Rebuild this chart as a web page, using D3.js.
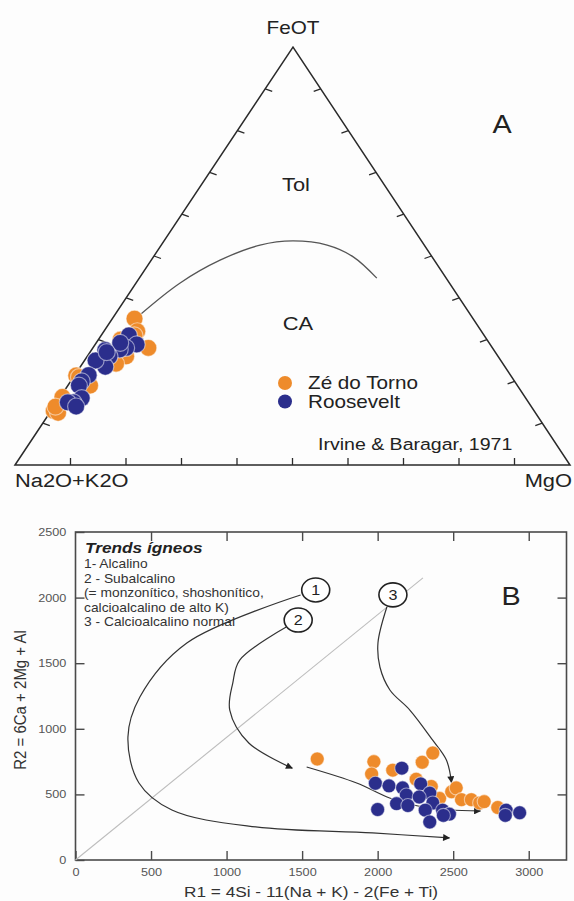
<!DOCTYPE html>
<html>
<head>
<meta charset="utf-8">
<script src="https://cdn.jsdelivr.net/npm/d3@7/dist/d3.min.js"></script>
<style>
  html, body { margin: 0; padding: 0; background: #fff; }
  svg { display: block; }
  text { font-family: "Liberation Sans", Arial, Helvetica, sans-serif; }
</style>
</head>
<body>
<svg id="fig" width="574" height="901"></svg>
<script>
// ---------- Panel A: AFM ternary (Irvine & Baragar, 1971) ----------
// each sample: [Na2O+K2O, FeOT, MgO]
const zeDoTornoAFM = [
  [61, 35, 4], [62, 28, 10], [62, 32, 6], [64, 31, 5], [66, 30, 4],
  [67, 26, 7], [69, 24, 6], [77, 20, 3], [78.5, 21.5, 0.3], [77, 19, 4],
  [83.5, 16.3, 0.4], [87, 13, 0.5], [86, 12.5, 1.5], [86, 14, 0.3], [78, 21, 1],
  [63, 31, 6]
];
const rooseveltAFM = [
  [64, 31, 5], [64, 29, 7.5], [66, 28, 6], [67, 27.5, 5], [70, 26, 4],
  [70, 27.5, 2.5], [72, 23.5, 4.5], [73, 25, 2], [76, 21.5, 2.5], [78, 20, 2],
  [79, 19, 2], [80, 16, 4], [82, 15, 3], [83, 15, 2], [82, 14, 4],
  [66, 29, 4.3], [70, 27, 3]
];
// tholeiitic / calc-alkaline dividing curve
const dividingCurveAFM = [
  [59.6, 35.9, 4.5], [48.6, 43.5, 7.9], [38.6, 49.0, 12.4], [29.6, 52.6, 17.8],
  [23.2, 53.6, 23.2], [17.5, 52.6, 29.9], [14.2, 49.8, 36.0], [12.5, 44.7, 42.8]
];
const ternaryTicks = [10, 20, 30, 40, 50, 60, 70, 80, 90];
const apexLabels = ["FeOT", "Na2O+K2O", "MgO"];
const seriesNames = ["Zé do Torno", "Roosevelt"];

// ---------- Panel B: R1-R2 (De La Roche) ----------
const zeDoTornoR1 = [1600, 1975, 1960, 2100, 2295, 2365, 2255, 2355, 2410, 2490, 2520, 2555, 2620, 2675, 2705, 2795];
const zeDoTornoR2 = [770, 750, 655, 685, 745, 815, 615, 560, 470, 520, 550, 460, 460, 435, 445, 400];
const rooseveltR1 = [2160, 1985, 2075, 2165, 2190, 2285, 2345, 2275, 2125, 2200, 2365, 2315, 2000, 2430, 2475, 2435, 2345, 2850, 2845, 2940];
const rooseveltR2 = [700, 585, 565, 550, 495, 580, 510, 480, 430, 415, 435, 380, 385, 380, 350, 340, 290, 380, 340, 360];

const trend1 = [[1490, 2020], [737, 1654], [426, 1242], [347, 937], [420, 587], [638, 381], [1193, 252], [1966, 206], [2475, 168]];
const trend2a = [[1395, 1776], [1087, 1524], [1041, 1349], [1021, 1143], [1147, 892], [1435, 700]];
const trend2b = [[1530, 709], [1861, 587], [2079, 473], [2297, 404], [2475, 381], [2680, 374]];
const trend3 = [[2061, 1928], [2002, 1654], [2015, 1471], [2081, 1296], [2213, 1143], [2363, 915], [2455, 762], [2489, 590]];
const referenceLine = [[0, 0], [2300, 2150]];
const trendMarkers = [{ id: "1", r1: 1590, r2: 2058 }, { id: "2", r1: 1474, r2: 1829 }, { id: "3", r1: 2101, r2: 2021 }];
const trendNotes = [
  "1- Alcalino",
  "2 - Subalcalino",
  "(= monzonítico, shoshonítico,",
  "calcioalcalino de alto K)",
  "3 - Calcioalcalino normal"
];
const r1Ticks = [0, 500, 1000, 1500, 2000, 2500, 3000];
const r2Ticks = [0, 500, 1000, 1500, 2000, 2500];

const ORANGE = "#EE8B2B";
const BLUE = "#2B2E8C";
const SX = 1.15; // horizontal stretch of the lettering

const svg = d3.select("#fig");
svg.append("rect").attr("width", 574).attr("height", 901).attr("fill", "#fdfdfd");

function label(g, x, y, txt, o = {}) {
  return g.append("text")
    .attr("transform", `translate(${x},${y}) scale(${SX},1)` + (o.rotate ? ` rotate(${o.rotate})` : ""))
    .attr("text-anchor", o.anchor || "start")
    .attr("font-size", o.size || 14)
    .attr("font-weight", o.weight || "normal")
    .attr("font-style", o.style || "normal")
    .attr("fill", o.fill || "#222")
    .text(txt);
}

// ===== Panel A =====
const A = svg.append("g");
const corner = { left: [15, 465], top: [293, 47], right: [570, 465] };
// barycentric scales: FeOT drives height, the FeOT and MgO fractions drive x
const fY = d3.scaleLinear().domain([0, 100]).range([corner.left[1], corner.top[1]]);
const fX = d3.scaleLinear().domain([0, 100]).range([0, corner.top[0] - corner.left[0]]);
const mX = d3.scaleLinear().domain([0, 100]).range([0, corner.right[0] - corner.left[0]]);
function tern(d) {
  const s = d[0] + d[1] + d[2];
  const f = d[1] / s * 100, m = d[2] / s * 100;
  return [corner.left[0] + fX(f) + mX(m), fY(f)];
}

A.append("path")
  .attr("d", d3.line()([tern([100, 0, 0]), tern([0, 100, 0]), tern([0, 0, 100])]) + "Z")
  .attr("fill", "none").attr("stroke", "#2a2a2a").attr("stroke-width", 1.5);

const tickG = A.append("g").attr("stroke", "#2a2a2a").attr("stroke-width", 1.3);
ternaryTicks.forEach(t => {
  const b = tern([100 - t, 0, t]);
  tickG.append("line").attr("x1", b[0]).attr("y1", b[1]).attr("x2", b[0]).attr("y2", b[1] - 7);
  const l = tern([100 - t, t, 0]);
  tickG.append("line").attr("x1", l[0]).attr("y1", l[1]).attr("x2", l[0] + 7).attr("y2", l[1] + 2.5);
  const r = tern([0, t, 100 - t]);
  tickG.append("line").attr("x1", r[0]).attr("y1", r[1]).attr("x2", r[0] - 7).attr("y2", r[1] + 2.5);
});

A.append("path")
  .attr("d", d3.line().curve(d3.curveCatmullRom)(dividingCurveAFM.map(tern)))
  .attr("fill", "none").attr("stroke", "#555").attr("stroke-width", 1.3);

function ternDots(data, color, r) {
  A.append("g").selectAll("circle").data(data).join("circle")
    .attr("cx", d => tern(d)[0]).attr("cy", d => tern(d)[1]).attr("r", r)
    .attr("fill", color).attr("stroke", "#fff").attr("stroke-opacity", 0.5).attr("stroke-width", 1.2);
}
ternDots(zeDoTornoAFM, ORANGE, 8.5);
ternDots(rooseveltAFM, BLUE, 8.5);

label(A, 293, 34, apexLabels[0], { size: 18, anchor: "middle" });
label(A, 15, 487, apexLabels[1], { size: 19 });
label(A, 572, 487, apexLabels[2], { size: 19, anchor: "end" });
label(A, 502, 133, "A", { size: 25, anchor: "middle" });
label(A, 296, 191, "Tol", { size: 19, anchor: "middle" });
label(A, 298, 330, "CA", { size: 19, anchor: "middle" });

[ORANGE, BLUE].forEach((c, i) => {
  A.append("circle").attr("cx", 285).attr("cy", 383 + i * 18.5).attr("r", 7).attr("fill", c);
  label(A, 308, 389 + i * 19, seriesNames[i], { size: 18 });
});
label(A, 318, 450, "Irvine & Baragar, 1971", { size: 17 });

// ===== Panel B =====
const B = svg.append("g");
const x = d3.scaleLinear().domain([0, 3250]).range([75.5, 566.5]);
const y = d3.scaleLinear().domain([0, 2500]).range([860, 532]);

B.append("rect")
  .attr("x", x(0)).attr("y", y(2500)).attr("width", x(3250) - x(0)).attr("height", y(0) - y(2500))
  .attr("fill", "none").attr("stroke", "#4a4a4a").attr("stroke-width", 1.6);

function styleAxis(g, showLabels) {
  g.select(".domain").remove();
  g.selectAll(".tick line").attr("stroke", "#4a4a4a").attr("stroke-width", 1.4);
  g.selectAll(".tick text")
    .attr("fill", "#555").attr("font-size", 11)
    .attr("font-family", "'Liberation Sans', Arial, sans-serif")
    .attr("transform", `scale(${SX},1)`);
  if (!showLabels) g.selectAll(".tick text").remove();
}
B.append("g").attr("transform", `translate(0,${y(0)})`)
  .call(d3.axisBottom(x).tickValues(r1Ticks).tickSize(-9).tickPadding(8).tickFormat(d3.format("d")))
  .call(g => styleAxis(g, true));
B.append("g").attr("transform", `translate(${x(0)},0)`)
  .call(d3.axisLeft(y).tickValues(r2Ticks).tickSize(-9).tickPadding(8).tickFormat(d3.format("d")))
  .call(g => styleAxis(g, true));
B.append("g").attr("transform", `translate(0,${y(2500)})`)
  .call(d3.axisTop(x).tickValues(r1Ticks.slice(1)).tickSize(-9))
  .call(g => styleAxis(g, false));
B.append("g").attr("transform", `translate(${x(3250)},0)`)
  .call(d3.axisRight(y).tickValues(r2Ticks.slice(1, -1)).tickSize(-9))
  .call(g => styleAxis(g, false));

B.append("line")
  .attr("x1", x(referenceLine[0][0])).attr("y1", y(referenceLine[0][1]))
  .attr("x2", x(referenceLine[1][0])).attr("y2", y(referenceLine[1][1]))
  .attr("stroke", "#bdbdbd").attr("stroke-width", 1.1);

const defs = svg.append("defs");
defs.append("marker").attr("id", "arrow").attr("viewBox", "0 0 10 10")
  .attr("refX", 9).attr("refY", 5).attr("markerWidth", 8).attr("markerHeight", 7)
  .attr("markerUnits", "userSpaceOnUse").attr("orient", "auto")
  .append("path").attr("d", "M0,0 L10,5 L0,10 Z").attr("fill", "#222");

const trendLine = d3.line().x(d => x(d[0])).y(d => y(d[1])).curve(d3.curveCatmullRom.alpha(0.5));
[trend1, trend2a, trend2b, trend3].forEach(t => {
  B.append("path").attr("d", trendLine(t))
    .attr("fill", "none").attr("stroke", "#333").attr("stroke-width", 1.2)
    .attr("marker-end", "url(#arrow)");
});

trendMarkers.forEach(m => {
  B.append("ellipse").attr("cx", x(m.r1)).attr("cy", y(m.r2)).attr("rx", 14).attr("ry", 12)
    .attr("fill", "#fff").attr("stroke", "#222").attr("stroke-width", 1.6);
  label(B, x(m.r1), y(m.r2) + 5, m.id, { size: 14, anchor: "middle" });
});

function bDots(r1, r2, color) {
  B.append("g").selectAll("circle").data(r1.map((v, i) => [v, r2[i]])).join("circle")
    .attr("cx", d => x(d[0])).attr("cy", d => y(d[1])).attr("r", 7)
    .attr("fill", color).attr("stroke", "#fff").attr("stroke-opacity", 0.5).attr("stroke-width", 1.1);
}
bDots(zeDoTornoR1, zeDoTornoR2, ORANGE);
bDots(rooseveltR1, rooseveltR2, BLUE);

label(B, 85, 553, "Trends ígneos", { size: 15, weight: "bold", style: "italic", fill: "#222" });
trendNotes.forEach((t, i) => label(B, 84, 568 + i * 14.5, t, { size: 12, fill: "#333" }));

label(B, 511, 605, "B", { size: 25, anchor: "middle" });
label(B, 311, 897, "R1 = 4Si - 11(Na + K) - 2(Fe + Ti)", { size: 15, anchor: "middle", fill: "#333" });
label(B, 26, 700, "R2 = 6Ca + 2Mg + Al", { size: 15, anchor: "middle", rotate: -90, fill: "#333" });
</script>
</body>
</html>
